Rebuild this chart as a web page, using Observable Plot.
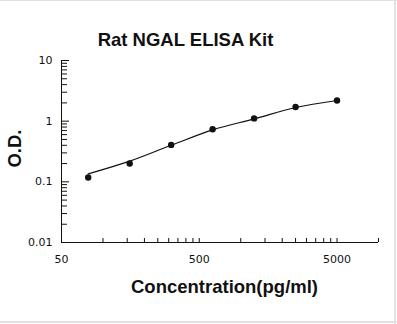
<!DOCTYPE html>
<html>
<head>
<meta charset="utf-8">
<script src="https://cdn.jsdelivr.net/npm/d3@7"></script>
<script src="https://cdn.jsdelivr.net/npm/@observablehq/plot@0.6"></script>
<style>
  html, body { margin: 0; padding: 0; background: #fff; }
  #chart { position: relative; width: 397px; height: 324px; overflow: hidden; }
  #chart svg { display: block; }
  .edge { position: absolute; background: #e4dfe2; }
</style>
</head>
<body>
<div id="chart">
  <div class="edge" style="left:0;top:0;width:397px;height:1px"></div>
  <div class="edge" style="left:0;top:321px;width:397px;height:2px"></div>
  <div class="edge" style="left:394px;top:0;width:2px;height:324px"></div>
</div>
<script>
// Standard curve: concentration (pg/ml) vs optical density
const concentration = [78.125, 156.25, 312.5, 625, 1250, 2500, 5000];
const od = [0.118, 0.201, 0.406, 0.736, 1.11, 1.71, 2.19];
// fitted curve evaluated at the standards
const fitOd = [0.135, 0.219, 0.40, 0.72, 1.09, 1.68, 2.19];

const xLabels = [50, 500, 5000];
const xMinor = [100, 150, 200, 250, 300, 350, 400, 450, 500,
                1000, 1500, 2000, 2500, 3000, 3500, 4000, 4500, 5000, 10000];
const yLabels = [0.01, 0.1, 1, 10];
const yMajor = [0.1, 1, 10];
const yMinor = [0.02, 0.03, 0.04, 0.05, 0.06, 0.07, 0.08, 0.09,
                0.2, 0.3, 0.4, 0.5, 0.6, 0.7, 0.8, 0.9,
                2, 3, 4, 5, 6, 7, 8, 9];

const title = "Rat NGAL ELISA Kit";
const xTitle = "Concentration(pg/ml)";
const yTitle = "O.D.";

const points = concentration.map((c, i) => ({c, od: od[i], fit: fitOd[i]}));

const W = 397, H = 324;
const mL = 61, mR = 19, mT = 60, mB = 82;
const pw = W - mL - mR, ph = H - mT - mB;
const boldFont = "'Liberation Sans', Arial, sans-serif";
const tickFont = "'DejaVu Sans', sans-serif";

const chart = Plot.plot({
  width: W,
  height: H,
  marginLeft: mL,
  marginRight: mR,
  marginTop: mT,
  marginBottom: mB,
  style: {background: "#fff", color: "#111", fontFamily: tickFont, fontSize: "11px"},
  x: {type: "log", domain: [50, 10000], axis: null},
  y: {type: "log", domain: [0.01, 10], axis: null},
  marks: [
    // tick labels
    Plot.text(xLabels, {x: d => d, text: d => String(d), frameAnchor: "bottom", dy: 20,
      fontSize: 11, fontFamily: tickFont, fill: "#111"}),
    Plot.text(yLabels, {y: d => d, text: d => String(d), frameAnchor: "left", dx: -9,
      textAnchor: "end", fontSize: 11, fontFamily: tickFont, fill: "#111"}),
    // inward tick marks
    Plot.ruleX(xMinor, {x: d => d, insetTop: ph - 4, stroke: "#111"}),
    Plot.ruleY(yMinor, {y: d => d, insetRight: pw - 6, stroke: "#111"}),
    Plot.ruleY(yMajor, {y: d => d, insetRight: pw - 8, stroke: "#111"}),
    // axis lines
    Plot.ruleX([50], {stroke: "#111"}),
    Plot.ruleY([0.01], {stroke: "#111"}),
    // fitted curve and measured standards
    Plot.line(points, {x: "c", y: "fit", curve: "monotone-x", stroke: "#111", strokeWidth: 1.2}),
    Plot.dot(points, {x: "c", y: "od", r: 3.2, fill: "#111", stroke: "none"}),
    // titles
    Plot.text([title], {text: d => d, frameAnchor: "top-left", dx: 185 - mL, dy: -15,
      lineAnchor: "bottom", textAnchor: "middle", fontSize: 18.5, fontWeight: "bold",
      fontFamily: boldFont, fill: "#111"}),
    Plot.text([xTitle], {text: d => d, frameAnchor: "bottom-left", dx: 224 - mL, dy: 50.5,
      lineAnchor: "bottom", textAnchor: "middle", fontSize: 18.5, fontWeight: "bold",
      fontFamily: boldFont, fill: "#111"}),
    Plot.text([yTitle], {text: d => d, frameAnchor: "left", dx: 20 - mL, dy: -3, rotate: -90,
      lineAnchor: "bottom", textAnchor: "middle", fontSize: 18.5, fontWeight: "bold",
      fontFamily: boldFont, fill: "#111"})
  ]
});

document.getElementById("chart").prepend(chart);
</script>
</body>
</html>
